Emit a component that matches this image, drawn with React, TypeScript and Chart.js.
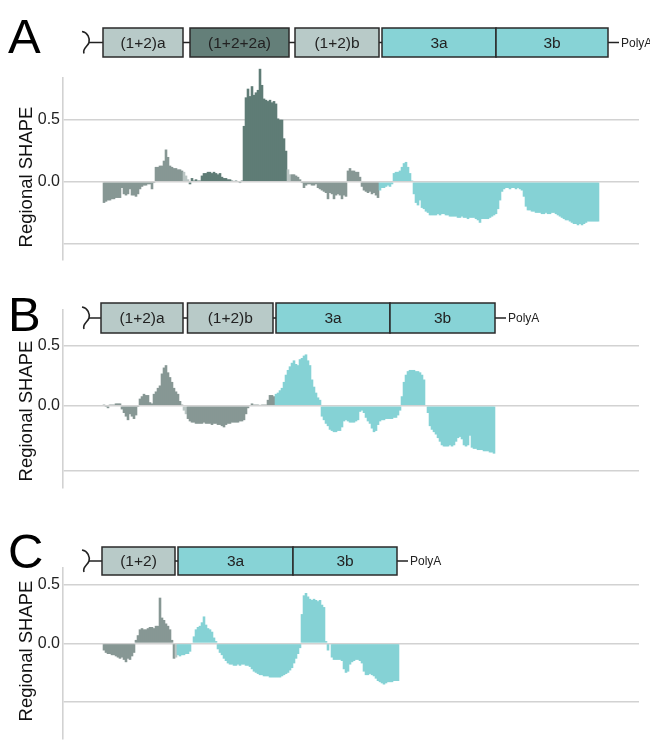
import React, { useEffect, useRef } from "react";
import { Chart, registerables } from "chart.js";
Chart.register(...registerables);

const BAR_COLORS: Record<string, string> = {
  gray: "#879794",
  dark: "#5f7c76",
  light: "#bac5c3",
  cyan: "#85d2d5",
};
const BOX_COLORS: Record<string, string> = {
  light: "#b8cac8",
  dark: "#647f79",
  cyan: "#87d3d6",
};

// ---------- Panel A values (one value per bin) ----------
const A_12a = [
  -0.17, -0.16, -0.15, -0.15, -0.14, -0.14, -0.13, -0.13, -0.13, -0.05,
  -0.1, -0.11, -0.1, -0.06, -0.11, -0.11, -0.12, -0.1, -0.06, -0.04,
  -0.03, -0.03, -0.02, -0.02, -0.06, -0.01, 0.12, 0.12, 0.13, 0.13,
  0.17, 0.26, 0.2, 0.13, 0.12, 0.11, 0.11, 0.1, 0.1, 0.09,
];
const A_link1 = [0.08, 0.05, 0.02];
const A_122a = [
  -0.02, 0.03, 0.01, 0.02, 0.01, 0.01, 0.05, 0.07, 0.07, 0.08,
  0.08, 0.07, 0.08, 0.07, 0.06, 0.07, 0.04, 0.03, 0.03, 0.02,
  0.02, 0.01, 0.0, 0.01, 0.0, -0.01, 0.01, 0.45, 0.68, 0.75,
  0.69, 0.77, 0.7, 0.72, 0.74, 0.91, 0.78, 0.67, 0.66, 0.65,
  0.66, 0.64, 0.65, 0.63, 0.51, 0.5, 0.5, 0.35, 0.25,
];
const A_link2 = [0.1, 0.06];
const A_12b = [
  0.06, 0.06, 0.05, 0.04, 0.02, -0.01, -0.05, -0.03, -0.02, -0.02,
  -0.03, -0.03, -0.02, -0.05, -0.06, -0.07, -0.08, -0.09, -0.14, -0.09,
  -0.1, -0.14, -0.11, -0.1, -0.11, -0.14, -0.11, -0.12, 0.09, 0.11,
  0.09, 0.09, 0.08, 0.08, 0.04, -0.04, -0.07, -0.08, -0.09, -0.08,
  -0.1, -0.09, -0.11, -0.13,
];
const A_3ab = [
  -0.07, -0.05, -0.05, -0.04, -0.03, -0.04, -0.02, 0.07, 0.08, 0.08,
  0.09, 0.12, 0.15, 0.16, 0.12, 0.07, 0.01, -0.1, -0.17, -0.19,
  -0.15, -0.21, -0.22, -0.24, -0.25, -0.27, -0.27, -0.27, -0.27, -0.26,
  -0.27, -0.26, -0.26, -0.27, -0.27, -0.28, -0.28, -0.28, -0.28, -0.29,
  -0.29, -0.28, -0.29, -0.29, -0.3, -0.29, -0.29, -0.29, -0.3, -0.31,
  -0.33, -0.3, -0.3, -0.3, -0.3, -0.29, -0.28, -0.27, -0.26, -0.22,
  -0.15, -0.08, -0.06, -0.05, -0.05, -0.06, -0.05, -0.05, -0.06, -0.05,
  -0.06, -0.07, -0.12, -0.2, -0.23, -0.23, -0.24, -0.24, -0.25, -0.25,
  -0.25, -0.26, -0.26, -0.25, -0.26, -0.26, -0.25, -0.25, -0.26, -0.27,
  -0.28, -0.29, -0.3, -0.31, -0.31, -0.32, -0.33, -0.34, -0.34, -0.35,
  -0.34, -0.35, -0.34, -0.33, -0.32, -0.32, -0.32, -0.32, -0.32, -0.32,
];

// ---------- Panel B values ----------
const B_12a = [
  0.01, -0.01, -0.02, 0.01, 0.01, 0.01, 0.02, 0.02, 0.02, -0.03,
  -0.06, -0.09, -0.12, -0.07, -0.09, -0.11, -0.08, -0.01, 0.06, 0.08,
  0.1, 0.09, 0.09, 0.03, 0.02, 0.1, 0.12, 0.15, 0.17, 0.27,
  0.32, 0.34, 0.28, 0.24, 0.2, 0.15, 0.12, 0.1, 0.04, 0.01,
];
const B_link1 = [-0.04, -0.07];
const B_12b = [
  -0.11, -0.13, -0.14, -0.14, -0.15, -0.15, -0.15, -0.15, -0.14, -0.15,
  -0.15, -0.15, -0.16, -0.15, -0.15, -0.16, -0.16, -0.17, -0.18, -0.16,
  -0.15, -0.15, -0.14, -0.14, -0.14, -0.14, -0.13, -0.13, -0.12, -0.07,
  -0.02, 0.0, 0.02, 0.01, 0.01, 0.01, 0.0, 0.01, 0.01, 0.01,
  0.05, 0.09, 0.09, 0.08,
];
const B_3ab = [
  0.1, 0.11, 0.13, 0.15, 0.2, 0.26, 0.3, 0.33, 0.36, 0.38,
  0.35, 0.34, 0.39, 0.4, 0.42, 0.43, 0.38, 0.34, 0.22, 0.16,
  0.11, 0.07, 0.05, -0.09, -0.12, -0.15, -0.17, -0.2, -0.21, -0.22,
  -0.22, -0.21, -0.21, -0.18, -0.13, -0.12, -0.13, -0.14, -0.14, -0.14,
  -0.13, -0.12, -0.05, -0.04, -0.06, -0.1, -0.13, -0.15, -0.19, -0.22,
  -0.21, -0.16, -0.13, -0.12, -0.12, -0.11, -0.11, -0.11, -0.11, -0.1,
  -0.1, -0.08, -0.04, 0.08, 0.2, 0.26, 0.29, 0.3, 0.3, 0.3,
  0.29, 0.29, 0.28, 0.26, 0.22, 0.0, -0.06, -0.17, -0.2, -0.22,
  -0.24, -0.27, -0.3, -0.33, -0.34, -0.34, -0.34, -0.33, -0.34, -0.33,
  -0.3, -0.27, -0.26, -0.28, -0.33, -0.34, -0.33, -0.25, -0.35, -0.36,
  -0.36, -0.37, -0.37, -0.37, -0.38, -0.38, -0.38, -0.39, -0.39, -0.4,
];

// ---------- Panel C values ----------
const C_12 = [
  -0.06, -0.08, -0.09, -0.09, -0.1, -0.1, -0.11, -0.12, -0.13, -0.12,
  -0.14, -0.16, -0.13, -0.14, -0.11, -0.08, 0.03, 0.07, 0.12, 0.13,
  0.12, 0.12, 0.13, 0.14, 0.14, 0.13, 0.15, 0.15, 0.39, 0.22,
  0.2, 0.17, 0.15, 0.12, 0.03, -0.13,
];
const C_link1 = [-0.12];
const C_3ab = [
  -0.1, -0.11, -0.1, -0.1, -0.09, -0.09, -0.07, 0.0, 0.06, 0.12,
  0.14, 0.15, 0.18, 0.23, 0.16, 0.13, 0.12, 0.1, 0.05, 0.02,
  -0.05, -0.08, -0.1, -0.13, -0.15, -0.17, -0.18, -0.18, -0.19, -0.19,
  -0.18, -0.19, -0.18, -0.18, -0.19, -0.19, -0.2, -0.22, -0.24, -0.25,
  -0.26, -0.27, -0.27, -0.28, -0.28, -0.28, -0.29, -0.29, -0.29, -0.29,
  -0.29, -0.29, -0.28, -0.27, -0.26, -0.25, -0.23, -0.21, -0.17, -0.13,
  -0.09, -0.04, 0.25, 0.41, 0.43, 0.4, 0.38, 0.37, 0.38, 0.37,
  0.36, 0.37, 0.33, 0.31, 0.02, -0.06, 0.0, -0.12, -0.14, -0.14,
  -0.14, -0.14, -0.15, -0.22, -0.25, -0.24, -0.18, -0.16, -0.15, -0.14,
  -0.14, -0.15, -0.17, -0.24, -0.27, -0.27, -0.26, -0.27, -0.28, -0.3,
  -0.32, -0.33, -0.34, -0.35, -0.34, -0.33, -0.33, -0.33, -0.32, -0.32,
  -0.32,
];

// ---------- Genome diagrams (box extents in bin units) ----------
const A_boxLabels = ["(1+2)a", "(1+2+2a)", "(1+2)b", "3a", "3b"];
const A_boxStart = [0, 43.5, 96, 139.5, 196.5];
const A_boxEnd = [40, 93, 138, 196.5, 252.5];
const A_boxFill = ["light", "dark", "light", "cyan", "cyan"];

const B_boxLabels = ["(1+2)a", "(1+2)b", "3a", "3b"];
const B_boxStart = [-1, 42.25, 86.5, 143.5];
const B_boxEnd = [40, 85, 143.5, 196];
const B_boxFill = ["light", "light", "cyan", "cyan"];

const C_boxLabels = ["(1+2)", "3a", "3b"];
const C_boxStart = [-0.5, 37.5, 95];
const C_boxEnd = [36, 95, 147];
const C_boxFill = ["light", "cyan", "cyan"];

const Y_TITLE = "Regional SHAPE";
const FONT = "'Liberation Sans', Arial, Helvetica, sans-serif";

type Panel = {
  letter: string;
  segments: [number[], string][];
  boxLabels: string[];
  boxStart: number[];
  boxEnd: number[];
  boxFill: string[];
  top: number;
  height: number;
  padTop: number;
  padBottom: number;
  yMin: number;
  yMax: number;
  grid: number[];
  boxTop: number;
  boxBottom: number;
  letterBase: number;
  titleY: number;
};

const PANELS: Panel[] = [
  {
    letter: "A",
    segments: [
      [A_12a, "gray"],
      [A_link1, "light"],
      [A_122a, "dark"],
      [A_link2, "light"],
      [A_12b, "gray"],
      [A_3ab, "cyan"],
    ],
    boxLabels: A_boxLabels,
    boxStart: A_boxStart,
    boxEnd: A_boxEnd,
    boxFill: A_boxFill,
    top: 0,
    height: 272,
    padTop: 78,
    padBottom: 7,
    yMin: -0.625,
    yMax: 0.836,
    grid: [-0.5, 0, 0.5],
    boxTop: 28,
    boxBottom: 57,
    letterBase: 53,
    titleY: 177,
  },
  {
    letter: "B",
    segments: [
      [B_12a, "gray"],
      [B_link1, "light"],
      [B_12b, "gray"],
      [B_3ab, "cyan"],
    ],
    boxLabels: B_boxLabels,
    boxStart: B_boxStart,
    boxEnd: B_boxEnd,
    boxFill: B_boxFill,
    top: 272,
    height: 228,
    padTop: 38,
    padBottom: 3,
    yMin: -0.6825,
    yMax: 0.8016,
    grid: [-0.54, 0, 0.5],
    boxTop: 31,
    boxBottom: 61,
    letterBase: 59,
    titleY: 139,
  },
  {
    letter: "C",
    segments: [
      [C_12, "gray"],
      [C_link1, "light"],
      [C_3ab, "cyan"],
    ],
    boxLabels: C_boxLabels,
    boxStart: C_boxStart,
    boxEnd: C_boxEnd,
    boxFill: C_boxFill,
    top: 500,
    height: 251,
    padTop: 68,
    padBottom: 0,
    yMin: -0.8095,
    yMax: 0.643,
    grid: [-0.5, 0, 0.5],
    boxTop: 47,
    boxBottom: 75,
    letterBase: 68,
    titleY: 151,
  },
];

function PanelChart({ p }: { p: Panel }) {
  const ref = useRef<HTMLCanvasElement | null>(null);
  useEffect(() => {
    if (!ref.current) return;
    const points: { x: number; y: number }[] = [];
    const colors: string[] = [];
    let i = 0;
    for (const [vals, key] of p.segments) {
      for (const v of vals) {
        points.push({ x: i + 0.5, y: v });
        colors.push(BAR_COLORS[key]);
        i++;
      }
    }

    const diagram = {
      id: "diagram" + p.letter,
      afterDraw(chart: any) {
        const ctx = chart.ctx as CanvasRenderingContext2D;
        const xs = chart.scales.x;
        ctx.save();
        // panel letter
        ctx.fillStyle = "#000";
        ctx.font = `49px ${FONT}`;
        ctx.textAlign = "left";
        ctx.textBaseline = "alphabetic";
        ctx.fillText(p.letter, 8, p.letterBase);

        const cy = (p.boxTop + p.boxBottom) / 2;
        const last = xs.getPixelForValue(p.boxEnd[p.boxEnd.length - 1]);
        // backbone
        ctx.strokeStyle = "#222";
        ctx.lineWidth = 1.6;
        ctx.beginPath();
        ctx.moveTo(89, cy);
        ctx.lineTo(last + 11, cy);
        ctx.stroke();
        // 5' wave
        ctx.beginPath();
        ctx.moveTo(82, cy - 11);
        ctx.bezierCurveTo(88, cy - 10, 90, cy - 4, 89, cy);
        ctx.bezierCurveTo(88, cy + 4, 82, cy + 6, 84, cy + 11);
        ctx.stroke();
        // boxes
        ctx.lineWidth = 1.5;
        for (let b = 0; b < p.boxLabels.length; b++) {
          const x0 = xs.getPixelForValue(p.boxStart[b]);
          const x1 = xs.getPixelForValue(p.boxEnd[b]);
          ctx.fillStyle = BOX_COLORS[p.boxFill[b]];
          ctx.fillRect(x0, p.boxTop, x1 - x0, p.boxBottom - p.boxTop);
          ctx.strokeStyle = "#2a2a2a";
          ctx.strokeRect(x0, p.boxTop, x1 - x0, p.boxBottom - p.boxTop);
          ctx.fillStyle = "#222";
          ctx.font = `15.5px ${FONT}`;
          ctx.textAlign = "center";
          ctx.textBaseline = "middle";
          ctx.fillText(p.boxLabels[b], (x0 + x1) / 2, cy + 1);
        }
        // PolyA
        ctx.fillStyle = "#222";
        ctx.font = `12px ${FONT}`;
        ctx.textAlign = "left";
        ctx.textBaseline = "middle";
        ctx.fillText("PolyA", last + 13, cy + 1);

        // y title
        ctx.translate(27, p.titleY);
        ctx.rotate(-Math.PI / 2);
        ctx.font = `18.5px ${FONT}`;
        ctx.fillStyle = "#111";
        ctx.textAlign = "center";
        ctx.textBaseline = "middle";
        ctx.fillText(Y_TITLE, 0, 0);
        ctx.restore();
      },
    };

    const chart = new Chart(ref.current, {
      type: "bar",
      data: {
        datasets: [
          {
            data: points as any,
            backgroundColor: colors,
            borderWidth: 0,
            barThickness: 2.6,
            inflateAmount: 0,
            clip: false as any,
          } as any,
        ],
      },
      options: {
        animation: false,
        responsive: false,
        devicePixelRatio: 1,
        events: [],
        layout: { padding: { left: 0, right: 11, top: p.padTop, bottom: p.padBottom } },
        plugins: { legend: { display: false }, tooltip: { enabled: false } },
        scales: {
          x: {
            type: "linear",
            display: false,
            min: -20,
            max: 268,
            offset: false,
          },
          y: {
            type: "linear",
            min: p.yMin,
            max: p.yMax,
            afterBuildTicks: (axis: any) => {
              axis.ticks = p.grid.map((v) => ({ value: v }));
            },
            afterFit: (axis: any) => {
              axis.width = 63;
            },
            ticks: {
              padding: 3,
              color: "#222",
              font: { size: 16, family: FONT },
              callback: (v: any) => (v === 0.5 ? "0.5" : v === 0 ? "0.0" : ""),
            },
            grid: { color: "#d2d2d2", lineWidth: 1.6, drawTicks: false },
            border: { display: true, color: "#d2d2d2", width: 1.6 },
          },
        },
      },
      plugins: [diagram],
    });
    return () => chart.destroy();
  }, [p]);
  return (
    <canvas
      ref={ref}
      width={650}
      height={p.height}
      style={{ position: "absolute", left: 0, top: p.top, width: 650, height: p.height }}
    />
  );
}

export default function App() {
  return (
    <div style={{ position: "absolute", left: 0, top: 0, width: 650, height: 751, background: "#fff" }}>
      {PANELS.map((p) => (
        <PanelChart key={p.letter} p={p} />
      ))}
    </div>
  );
}
